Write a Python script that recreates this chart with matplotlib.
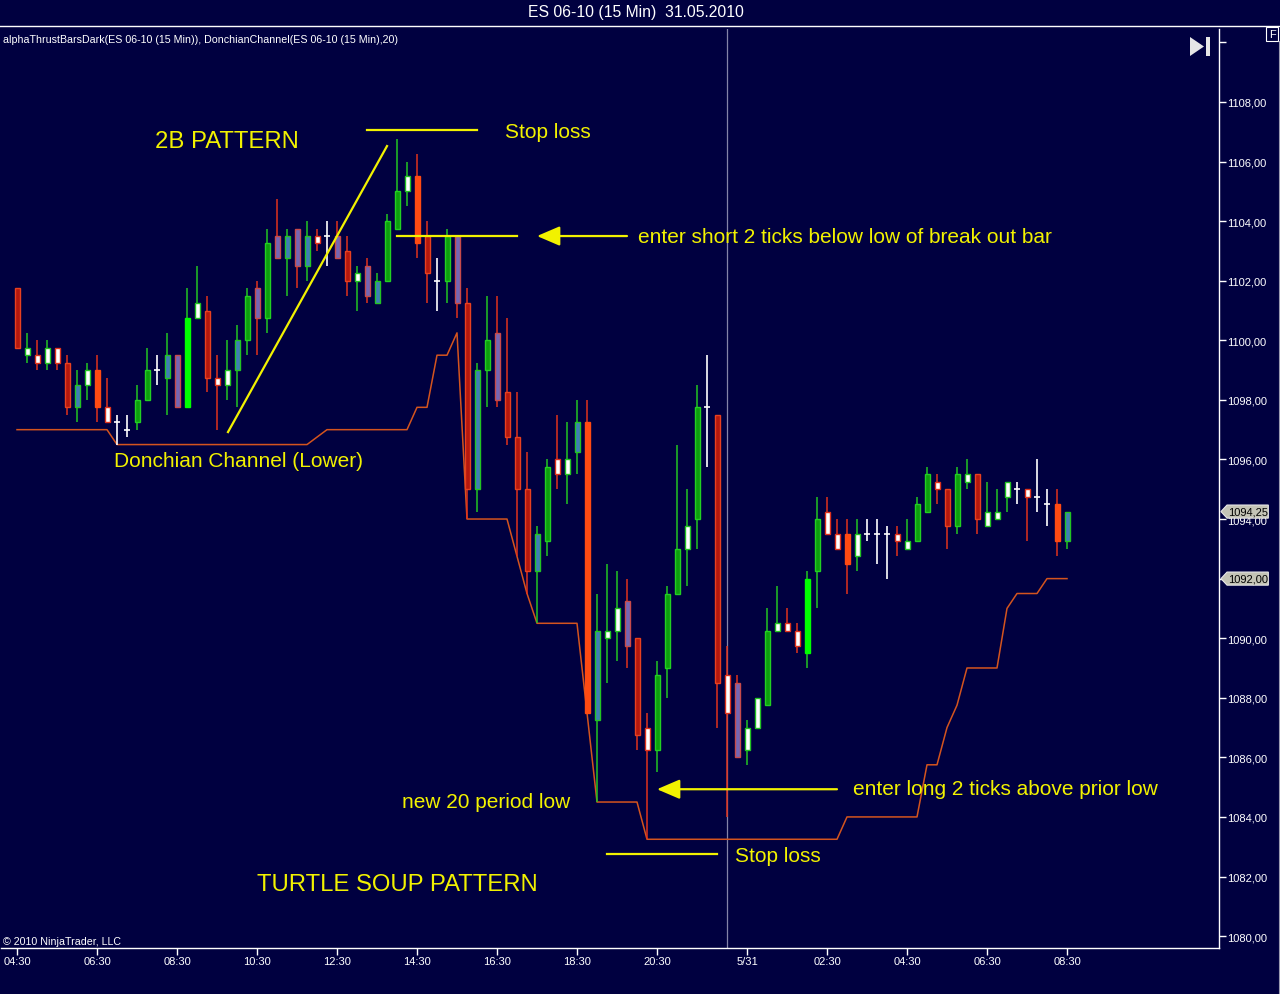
import numpy as np
import pandas as pd
import matplotlib
matplotlib.use("Agg")
import matplotlib.pyplot as plt
from matplotlib.lines import Line2D
from matplotlib.patches import Polygon, Rectangle
from matplotlib.ticker import FixedLocator, FuncFormatter
from matplotlib.transforms import blended_transform_factory

plt.rcParams['font.family'] = ['Liberation Sans', 'DejaVu Sans']

# ES 06-10, 15 min bars, 04:30 -> 08:30 next day
opens = [1101.75, 1099.5, 1099.5, 1099.25, 1099.75, 1099.25, 1097.75, 1098.5, 1099.0, 1097.75,
         1097.25, 1097.0, 1097.25, 1098.0, 1099.0, 1098.75, 1099.5, 1097.75, 1100.75, 1101.0,
         1098.75, 1098.5, 1099.0, 1100.0, 1101.75, 1100.75, 1103.5, 1102.75, 1103.75, 1102.5,
         1103.5, 1103.5, 1103.5, 1103.0, 1102.0, 1102.5, 1101.25, 1102.0, 1103.75, 1105.0,
         1105.5, 1103.5, 1102.0, 1102.0, 1103.5, 1101.25, 1095.0, 1099.0, 1100.25, 1098.25,
         1096.75, 1095.0, 1092.25, 1093.25, 1096.0, 1095.5, 1096.25, 1097.25, 1087.25, 1090.0,
         1090.25, 1091.25, 1090.0, 1087.0, 1086.25, 1089.0, 1091.5, 1093.0, 1094.0, 1097.75,
         1097.5, 1088.75, 1088.5, 1086.25, 1087.0, 1087.75, 1090.25, 1090.5, 1090.25, 1089.5,
         1092.25, 1094.25, 1093.5, 1093.5, 1092.75, 1093.5, 1093.5, 1093.5, 1093.5, 1093.0,
         1093.25, 1094.25, 1095.25, 1095.0, 1093.75, 1095.25, 1095.5, 1093.75, 1094.0, 1094.75,
         1095.0, 1095.0, 1094.75, 1094.5, 1094.5, 1093.25]
highs = [1101.75, 1100.25, 1100.0, 1100.0, 1099.75, 1099.5, 1099.0, 1099.25, 1099.5, 1098.75,
         1097.5, 1097.5, 1098.5, 1099.75, 1099.5, 1100.25, 1099.5, 1101.75, 1102.5, 1101.5,
         1099.5, 1100.0, 1100.5, 1101.75, 1102.0, 1103.75, 1104.75, 1103.75, 1103.75, 1104.0,
         1103.75, 1104.0, 1104.0, 1103.5, 1102.5, 1102.75, 1102.25, 1104.25, 1106.75, 1106.0,
         1106.25, 1104.0, 1102.75, 1103.75, 1103.5, 1101.75, 1099.25, 1101.5, 1101.5, 1100.75,
         1098.25, 1096.25, 1093.75, 1096.0, 1097.5, 1097.25, 1098.0, 1098.0, 1091.5, 1092.5,
         1092.25, 1092.0, 1090.0, 1087.5, 1089.25, 1091.75, 1096.5, 1095.0, 1098.5, 1099.5,
         1097.5, 1089.75, 1088.75, 1087.25, 1088.0, 1091.0, 1091.75, 1091.0, 1090.5, 1092.25,
         1094.75, 1094.75, 1094.0, 1094.0, 1094.0, 1094.0, 1094.0, 1093.75, 1093.75, 1094.0,
         1094.75, 1095.75, 1095.5, 1095.0, 1095.75, 1096.0, 1095.5, 1095.25, 1095.0, 1095.25,
         1095.25, 1095.0, 1096.0, 1095.0, 1095.0, 1094.25]
lows = [1099.75, 1099.25, 1099.0, 1099.0, 1099.0, 1097.5, 1097.25, 1098.0, 1097.25, 1097.25,
        1096.5, 1096.75, 1097.0, 1098.0, 1098.5, 1097.5, 1097.75, 1097.75, 1100.75, 1098.25,
        1097.0, 1098.0, 1097.75, 1099.5, 1099.5, 1100.25, 1102.75, 1101.5, 1101.75, 1102.0,
        1103.0, 1102.5, 1102.75, 1101.5, 1101.0, 1101.25, 1101.25, 1102.0, 1103.75, 1104.5,
        1102.75, 1101.25, 1101.0, 1101.25, 1100.75, 1094.0, 1094.25, 1097.75, 1097.75, 1096.5,
        1092.75, 1091.5, 1090.5, 1092.75, 1095.0, 1094.5, 1095.5, 1087.5, 1084.5, 1088.5,
        1089.25, 1089.0, 1086.25, 1083.25, 1085.5, 1088.0, 1091.5, 1091.75, 1093.0, 1095.75,
        1087.0, 1084.0, 1086.0, 1085.75, 1087.0, 1087.75, 1090.25, 1090.25, 1089.5, 1089.0,
        1091.0, 1093.5, 1093.0, 1091.5, 1092.25, 1093.25, 1092.5, 1092.0, 1092.75, 1093.0,
        1093.25, 1094.25, 1094.5, 1093.0, 1093.5, 1095.0, 1093.5, 1093.75, 1094.0, 1094.25,
        1094.5, 1093.25, 1094.25, 1093.75, 1092.75, 1093.0]
closes = [1099.75, 1099.75, 1099.25, 1099.75, 1099.25, 1097.75, 1098.5, 1099.0, 1097.75, 1097.25,
          1097.25, 1097.0, 1098.0, 1099.0, 1099.0, 1099.5, 1097.75, 1100.75, 1101.25, 1098.75,
          1098.5, 1099.0, 1100.0, 1101.5, 1100.75, 1103.25, 1102.75, 1103.5, 1102.5, 1103.5,
          1103.25, 1103.5, 1102.75, 1102.0, 1102.25, 1101.5, 1102.0, 1104.0, 1105.0, 1105.5,
          1103.25, 1102.25, 1102.0, 1103.5, 1101.25, 1095.0, 1099.0, 1100.0, 1098.0, 1096.75,
          1095.0, 1092.25, 1093.5, 1095.75, 1095.5, 1096.0, 1097.25, 1087.5, 1090.25, 1090.25,
          1091.0, 1089.75, 1086.75, 1086.25, 1088.75, 1091.5, 1093.0, 1093.75, 1097.75, 1097.75,
          1088.5, 1087.5, 1086.0, 1087.0, 1088.0, 1090.25, 1090.5, 1090.25, 1089.75, 1092.0,
          1094.0, 1093.5, 1093.0, 1092.5, 1093.5, 1093.5, 1093.5, 1093.5, 1093.25, 1093.25,
          1094.5, 1095.5, 1095.0, 1093.75, 1095.5, 1095.5, 1094.0, 1094.25, 1094.25, 1095.25,
          1095.0, 1094.75, 1094.75, 1094.5, 1093.25, 1094.25]
# alphaThrust bar colouring, one letter per bar
bar_style = list("RWWWWRBWOW" "DDGGDBPLWR" "WWBGPGPBPB" "WDPRWPBGGW" "ORDGPRBGPR"
                 "RRBGWWBOBW" "WPRWGGGWGD" "RWPWWGWWWL" "GWWOWDDDWW" "GGWRGWRWWW" "DWDDOB")
prior_low = 1097.0   # lowest low of the 20 bars before the first one shown
tick_idx = [0, 8, 16, 24, 32, 40, 48, 56, 64, 73, 81, 89, 97, 105]
tick_lbl = ['04:30', '06:30', '08:30', '10:30', '12:30', '14:30', '16:30', '18:30',
            '20:30', '5/31', '02:30', '04:30', '06:30', '08:30']

bg = '#000040'
yel = '#f2f200'
up_c, dn_c = '#22c422', '#e0321c'
face = {'R': '#b5180e', 'O': '#ff4a12', 'G': '#0e9e0e', 'L': '#00ff00',
        'B': '#3e7db6', 'P': '#7466b5', 'W': '#ffffff'}

o = np.array(opens); h = np.array(highs); l = np.array(lows); c = np.array(closes)
x = np.arange(len(o))
up = c >= o

low_s = pd.Series([prior_low] + lows)
donchian = low_s.rolling(20, min_periods=1).min().values[1:]

fig = plt.figure(figsize=(12.8, 9.95), dpi=100, facecolor=bg)
ax = fig.add_axes([1 / 1280, 46 / 995, 1218 / 1280, 919 / 995], facecolor=bg)

ax.axvline(71, color='#8484a8', lw=0.9, zorder=1)
ax.plot(x, donchian, color='#d4541e', lw=1.1, zorder=2)

for i in x:
    s = bar_style[i]
    if s == 'D':
        ax.vlines(i, l[i], h[i], color='white', lw=1.2, zorder=3)
        ax.hlines(o[i], i - 0.3, i + 0.3, color='white', lw=1.2, zorder=3)
        continue
    wc = up_c if up[i] else dn_c
    ax.vlines(i, l[i], h[i], color=wc, lw=1.1, zorder=3)
    if s in ('W', 'B'):
        ec = up_c if up[i] else dn_c
    elif s == 'P':
        ec = '#c84a4a'
    elif s == 'R':
        ec = '#e8401f'
    elif s == 'G':
        ec = '#22d022'
    else:
        ec = face[s]
    lo, hi = min(o[i], c[i]), max(o[i], c[i])
    ax.bar(i, hi - lo, bottom=lo, width=0.5, color=face[s], edgecolor=ec, lw=1.0, zorder=4)

ax.set_xlim(-1.6, 120.2)
ax.set_ylim(1079.6, 1110.45)

for sp in ('left', 'top'):
    ax.spines[sp].set_visible(False)
for sp in ('right', 'bottom'):
    ax.spines[sp].set_color('white')
    ax.spines[sp].set_linewidth(1.0)

ax.yaxis.tick_right()
ax.yaxis.set_major_locator(FixedLocator(np.arange(1080, 1111, 2)))
ax.yaxis.set_major_formatter(FuncFormatter(
    lambda v, p: '' if v > 1109 else f'{v:.2f}'.replace('.', ',')))
ax.tick_params(axis='y', colors='white', labelsize=8, length=5, width=1, pad=1)
ax.set_xticks(tick_idx)
ax.set_xticklabels(tick_lbl)
ax.tick_params(axis='x', colors='white', labelsize=8, length=5, width=1, pad=1)

# annotations
lw_a = 1.6
ax.plot([21.1, 37.0], [1096.92, 1106.52], color=yel, lw=lw_a, zorder=5)
ax.plot([35, 46], [1107.05, 1107.05], color=yel, lw=lw_a, zorder=5)
ax.plot([38, 50], [1103.5, 1103.5], color=yel, lw=lw_a, zorder=5)
ax.plot([59, 70], [1082.75, 1082.75], color=yel, lw=lw_a, zorder=5)
arr = dict(arrowstyle='-|>,head_length=0.7,head_width=0.3', color=yel, lw=lw_a,
           mutation_scale=20, shrinkA=0, shrinkB=0)
ax.annotate('', xy=(52, 1103.5), xytext=(61, 1103.5), arrowprops=arr, zorder=5)
ax.annotate('', xy=(64, 1084.93), xytext=(82, 1084.93), arrowprops=arr, zorder=5)

txt = dict(color=yel, va='center', ha='left', zorder=6)
big, small = 17.2, 15.0
ax.text(13.8, 1106.7, '2B PATTERN', fontsize=big, **txt)
ax.text(48.8, 1107.0, 'Stop loss', fontsize=small, **txt)
ax.text(62.1, 1103.5, 'enter short 2 ticks below low of break out bar', fontsize=small, **txt)
ax.text(9.7, 1095.95, 'Donchian Channel (Lower)', fontsize=small, **txt)
ax.text(38.5, 1084.53, 'new 20 period low', fontsize=small, **txt)
ax.text(83.6, 1084.97, 'enter long 2 ticks above prior low', fontsize=small, **txt)
ax.text(71.8, 1082.69, 'Stop loss', fontsize=small, **txt)
ax.text(24.0, 1081.75, 'TURTLE SOUP PATTERN', fontsize=big, **txt)

# price markers on the axis
tr = blended_transform_factory(ax.transAxes, ax.transData)
for p in (closes[-1], donchian[-1]):
    pts = [(1.0016, p), (1.0066, p + 0.22), (1.0405, p + 0.22),
           (1.0405, p - 0.22), (1.0066, p - 0.22)]
    ax.add_patch(Polygon(pts, closed=True, transform=tr, clip_on=False,
                         fc='#c4c4b6', ec='#e8e8e8', lw=0.8, zorder=7))
    ax.text(1.0235, p, f'{p:.2f}'.replace('.', ','), transform=tr, fontsize=8,
            color='black', ha='center', va='center', clip_on=False, zorder=8)

# frame texts
fig.add_artist(Line2D([0, 1], [1 - 27 / 995] * 2, color='white', lw=1.0))
fig.add_artist(Line2D([1278.5 / 1280] * 2, [0, 1 - 42 / 995], color='#9a9ab0', lw=0.8))
fig.text(636 / 1280, 1 - 12 / 995, 'ES 06-10 (15 Min)  31.05.2010', color='white',
         fontsize=11.3, ha='center', va='center')
fig.text(3 / 1280, 1 - 40 / 995,
         'alphaThrustBarsDark(ES 06-10 (15 Min)), DonchianChannel(ES 06-10 (15 Min),20)',
         color='white', fontsize=7.7, ha='left', va='center')
fig.text(3 / 1280, 1 - 942 / 995, '\u00a9 2010 NinjaTrader, LLC', color='white',
         fontsize=7.7, ha='left', va='center')
fig.add_artist(Polygon([(1190 / 1280, 1 - 38 / 995), (1190 / 1280, 1 - 57 / 995),
                        (1204 / 1280, 1 - 47.5 / 995)], closed=True, fc='#e6e6e6', ec='none'))
fig.add_artist(Rectangle((1206 / 1280, 1 - 57 / 995), 4 / 1280, 19 / 995,
                         fc='#e6e6e6', ec='none'))
fig.add_artist(Rectangle((1266 / 1280, 1 - 42 / 995), 12 / 1280, 14 / 995,
                         fc=bg, ec='white', lw=0.8))
fig.text(1272 / 1280, 1 - 35 / 995, 'F', color='white', fontsize=8,
         ha='center', va='center')

fig.savefig('out.png', dpi=100, facecolor=bg)
